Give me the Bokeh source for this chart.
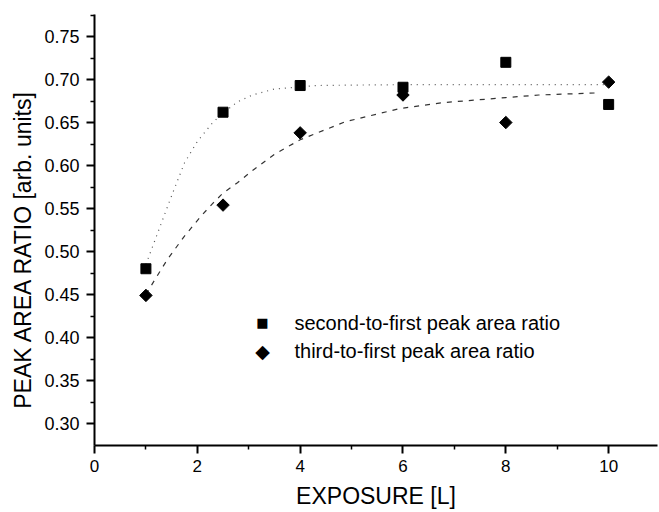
import numpy as np
from bokeh.plotting import figure
from bokeh.models import Range1d, FixedTicker, PrintfTickFormatter, Label
from bokeh.embed import file_html
from bokeh.resources import INLINE

# measured data
exposure = [1, 2.5, 4, 6, 8, 10]
second_to_first = [0.480, 0.662, 0.693, 0.691, 0.720, 0.671]
third_to_first = [0.449, 0.554, 0.638, 0.682, 0.650, 0.697]

# fit curves
fit2_x = [1.0, 1.3, 1.52, 1.75, 2.0, 2.3, 2.5, 2.78, 3.07, 3.5, 4.3, 5.0, 6.0, 7.0, 8.0, 9.0, 10.0]
fit2_y = [0.485, 0.533, 0.568, 0.603, 0.628, 0.650, 0.661, 0.674, 0.682, 0.689, 0.693, 0.6935, 0.694, 0.694, 0.694, 0.694, 0.694]
fit3_x = [1.0, 1.17, 1.42, 1.75, 2.07, 2.3, 2.5, 2.78, 3.07, 3.5, 4.0, 4.88, 5.92, 6.76, 8.0, 8.64, 9.8]
fit3_y = [0.450, 0.467, 0.491, 0.518, 0.541, 0.556, 0.568, 0.580, 0.594, 0.613, 0.630, 0.651, 0.666, 0.673, 0.679, 0.682, 0.6845]

x_ticks = [0, 2, 4, 6, 8, 10]
x_minor = [1, 3, 5, 7, 9]
y_ticks = [0.30, 0.35, 0.40, 0.45, 0.50, 0.55, 0.60, 0.65, 0.70, 0.75]
y_minor = [0.325, 0.375, 0.425, 0.475, 0.525, 0.575, 0.625, 0.675, 0.725, 0.775]

x_label = "EXPOSURE [L]"
y_label = "PEAK AREA RATIO [arb. units]"
legend_labels = ["second-to-first peak area ratio", "third-to-first peak area ratio"]
legend_symbols = ["\u25A0", "\u25C6"]

FONT = "Liberation Sans"

p = figure(width=658, height=511, output_backend="svg", toolbar_location=None,
           x_range=Range1d(0, 10.95), y_range=Range1d(0.2745, 0.7756),
           min_border_left=94, min_border_right=1, min_border_top=14, min_border_bottom=66)
p.outline_line_color = None
p.grid.grid_line_color = None
p.background_fill_color = "white"

p.line(fit2_x, fit2_y, line_color="#555555", line_width=1.2, line_dash="1 5")
p.line(fit3_x, fit3_y, line_color="#333333", line_width=1.2, line_dash="5 6")

p.scatter(exposure, second_to_first, marker="square", size=10, color="black")
p.scatter(exposure, third_to_first, marker="square", size=8.8, angle=np.pi / 4, color="black")

# legend (screen positions relative to the plot frame)
legend_rows_y = [123, 95]
legend_sym_sizes = ["13px", "19px"]
for sym, ssz, lab, yy in zip(legend_symbols, legend_sym_sizes, legend_labels, legend_rows_y):
    p.add_layout(Label(x=168, y=yy, x_units="screen", y_units="screen", text=sym,
                       text_align="center", text_baseline="middle",
                       text_font="DejaVu Sans", text_font_size=ssz, text_color="black"))
    p.add_layout(Label(x=200, y=yy, x_units="screen", y_units="screen", text=lab,
                       text_align="left", text_baseline="middle",
                       text_font=FONT, text_font_size="20px", text_color="black"))

p.xaxis.ticker = FixedTicker(ticks=x_ticks, minor_ticks=x_minor)
p.yaxis.ticker = FixedTicker(ticks=y_ticks, minor_ticks=y_minor)
p.yaxis.formatter = PrintfTickFormatter(format="%.2f")
p.xaxis.axis_label = x_label
p.yaxis.axis_label = y_label + "\u00a0" * 6

for ax in (p.xaxis, p.yaxis):
    ax.axis_line_width = 2
    ax.axis_line_color = "black"
    ax.major_tick_line_width = 2
    ax.minor_tick_line_width = 1.5
    ax.major_tick_line_color = "black"
    ax.minor_tick_line_color = "black"
    ax.major_tick_out = 8
    ax.major_tick_in = 0
    ax.minor_tick_out = 4
    ax.minor_tick_in = 0
    ax.major_label_text_font = FONT
    ax.major_label_text_color = "black"
    ax.axis_label_text_font = FONT
    ax.axis_label_text_font_style = "normal"
    ax.axis_label_text_color = "black"

p.xaxis.major_label_text_font_size = "17px"
p.yaxis.major_label_text_font_size = "18px"
p.xaxis.major_label_standoff = 6
p.yaxis.major_label_standoff = 7
p.xaxis.axis_label_text_font_size = "23px"
p.yaxis.axis_label_text_font_size = "23px"
p.xaxis.axis_label_standoff = 8
p.yaxis.axis_label_standoff = 5

open("out.html", "w").write(file_html(p, INLINE))
